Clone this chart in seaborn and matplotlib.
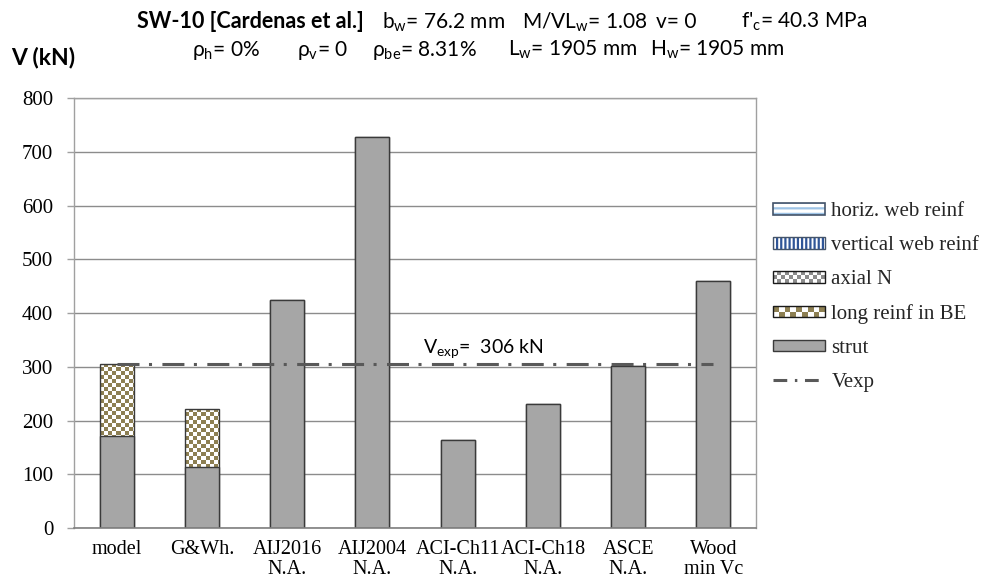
import matplotlib
matplotlib.use("Agg")
import numpy as np
import pandas as pd
import seaborn as sns
import matplotlib.pyplot as plt
from matplotlib.patches import Rectangle, Patch
from matplotlib.lines import Line2D
from matplotlib.legend_handler import HandlerBase
from matplotlib.colors import ListedColormap

# ---- data -------------------------------------------------------------
methods = ["model", "G&Wh.", "AIJ2016\nN.A.", "AIJ2004\nN.A.", "ACI-Ch11\nN.A.",
           "ACI-Ch18\nN.A.", "ASCE\nN.A.", "Wood\nmin Vc"]
strut = [172, 113, 424, 727, 163, 230, 302, 460]
long_reinf_be = [134, 109, 0, 0, 0, 0, 0, 0]
v_exp = 306
y_ticks = [0, 100, 200, 300, 400, 500, 600, 700, 800]

legend_labels = ["horiz. web reinf", "vertical web reinf", "axial N",
                 "long reinf in BE", "strut", "Vexp"]

# ---- style ------------------------------------------------------------
sns.set_theme(style="white")
plt.rcParams["font.family"] = ["Liberation Serif", "DejaVu Serif"]
plt.rcParams["mathtext.fontset"] = "custom"
plt.rcParams["mathtext.rm"] = "Lato"
plt.rcParams["mathtext.default"] = "regular"
plt.rcParams["hatch.linewidth"] = 1.6

SANS = ["Lato", "DejaVu Sans"]
STRUT_GRAY = "#A6A6A6"
EDGE = "#3A3A3A"
OLIVE = "#8D7F52"
LINE_GRAY = "#595959"
GRID = "#8C8C8C"

W, H = 984, 581
fig = plt.figure(figsize=(W / 100, H / 100), dpi=100)
fig.patch.set_facecolor("white")

ax_left, ax_right, ax_top, ax_bottom = 74, 756, 98, 528
ax = fig.add_axes([ax_left / W, 1 - ax_bottom / H,
                   (ax_right - ax_left) / W, (ax_bottom - ax_top) / H])

df = pd.DataFrame({"method": methods,
                   "strut": strut,
                   "total": np.add(strut, long_reinf_be)})

# total height (strut + longitudinal reinforcement contribution)
sns.barplot(data=df, x="method", y="total", color="white", saturation=1,
            width=0.4, edgecolor=EDGE, linewidth=1.0, ax=ax)
total_bars = list(ax.patches)
for p in total_bars:
    p.set_facecolor("none")
    p.set_zorder(1.8)

ax.set_ylim(0, 800)
ax.set_xlim(-0.5, len(methods) - 0.5)

# checkerboard texture for the boundary-element reinforcement share
cell_px = 4.0
inv = ax.transData.inverted()
for p, extra in zip(total_bars, long_reinf_be):
    if extra <= 0:
        continue
    x0, x1 = p.get_x(), p.get_x() + p.get_width()
    y0, y1 = 0, p.get_height()
    (px0, py0), (px1, py1) = ax.transData.transform([(x0, y0), (x1, y1)])
    nx = int(np.ceil((px1 - px0) / cell_px))
    ny = int(np.ceil((py1 - py0) / cell_px))
    ex1, _ = inv.transform((px0 + nx * cell_px, py0))
    _, ey0 = inv.transform((px0, py1 - ny * cell_px))
    ii, jj = np.meshgrid(np.arange(nx), np.arange(ny))
    board = ((ii + jj) % 2).astype(float)
    im = ax.imshow(board, cmap=ListedColormap(["white", OLIVE]), vmin=0, vmax=1,
                   extent=(x0, ex1, ey0, y1), origin="upper",
                   interpolation="nearest", aspect="auto", zorder=1.5)
    im.set_clip_path(p)

# strut contribution
sns.barplot(data=df, x="method", y="strut", color=STRUT_GRAY, saturation=1,
            width=0.4, edgecolor=EDGE, linewidth=1.0, ax=ax, zorder=2)

ax.set_ylim(0, 800)
ax.set_xlim(-0.5, len(methods) - 0.5)
ax.set_aspect("auto")

# experimental shear strength
dash = (7.2, 3.1, 1.0, 3.4)
ax.plot([0, len(methods) - 1], [v_exp, v_exp], color=LINE_GRAY, lw=2.2,
        dashes=dash, solid_capstyle="butt", dash_capstyle="butt", zorder=3)
ax.text(3.59, v_exp + 27, r"V$_{exp}$=  " + f"{v_exp} kN", family=SANS,
        fontsize=14, color="black", ha="left", va="center", zorder=4)

# axes cosmetics
ax.set_yticks(y_ticks)
ax.set_yticklabels([str(t) for t in y_ticks])
ax.yaxis.grid(True, color=GRID, lw=1.0)
ax.set_axisbelow(True)
ax.set_xlabel("")
ax.set_ylabel("")
for side in ["left", "right", "top"]:
    ax.spines[side].set_color("#A0A0A0")
    ax.spines[side].set_linewidth(1.0)
ax.spines["bottom"].set_color("#7F7F7F")
ax.spines["bottom"].set_linewidth(1.2)
ax.tick_params(axis="y", which="both", left=True, length=5, width=1,
               color="#A0A0A0", direction="out", pad=10, labelsize=15,
               labelcolor="black")
ax.tick_params(axis="x", length=0, pad=9, labelsize=14.5, labelcolor="black")
for lab in ax.get_xticklabels():
    lab.set_linespacing(1.0)
    lab.set_verticalalignment("top")

# ---- titles -----------------------------------------------------------
def ftext(x, y, s, size=15, **kw):
    fig.text(x / W, 1 - y / H, s, va="center", ha="left", family=SANS,
             fontsize=size, color="black", **kw)

ftext(137, 22, "SW-10 [Cardenas et al.]", size=15.5, weight="bold")
ftext(382, 22, r"b$_w$= 76.2 mm")
ftext(522, 22, r"M/VL$_w$= 1.08")
ftext(656, 22, "v= 0")
ftext(741, 22, r"f'$_c$= 40.3 MPa")
ftext(192, 50, r"$\rho_h$= 0%")
ftext(297, 50, r"$\rho_v$= 0")
ftext(372, 50, r"$\rho_{be}$= 8.31%")
ftext(508, 50, r"L$_w$= 1905 mm")
ftext(650, 50, r"H$_w$= 1905 mm")
ftext(11, 58, "V (kN)", size=16.5, weight="bold")

# ---- legend -----------------------------------------------------------
class CheckerHandler(HandlerBase):
    def __init__(self, color, rows):
        super().__init__()
        self.color = color
        self.rows = rows

    def create_artists(self, legend, orig_handle, xdescent, ydescent,
                       width, height, fontsize, trans):
        x0, y0 = -xdescent, -ydescent
        ch = height / self.rows
        nx = max(1, int(round(width / ch)))
        cw = width / nx
        arts = [Rectangle((x0, y0), width, height, facecolor="white",
                          lw=0, transform=trans)]
        for i in range(nx):
            for j in range(self.rows):
                if (i + j) % 2:
                    arts.append(Rectangle((x0 + i * cw, y0 + j * ch), cw, ch,
                                          facecolor=self.color, lw=0,
                                          transform=trans))
        arts.append(Rectangle((x0, y0), width, height, facecolor="none",
                              edgecolor="#1A1A1A", lw=1.0, transform=trans))
        return arts


h_horiz = (Patch(facecolor="white", edgecolor="#9DC3E6", hatch="---", lw=0),
           Patch(facecolor="none", edgecolor="#44546A", lw=1.2))
h_vert = (Patch(facecolor="white", edgecolor="#2F5597", hatch="||||", lw=0),
          Patch(facecolor="none", edgecolor="#44546A", lw=1.0))
h_axial = Patch(facecolor="white")
h_long = Patch(facecolor=OLIVE)
h_strut = Patch(facecolor=STRUT_GRAY, edgecolor=EDGE, lw=1.0)
h_vexp = Line2D([], [], color=LINE_GRAY, lw=2.2, dashes=(4.5, 2.5, 0.8, 2.5))

fig.legend([h_horiz, h_vert, h_axial, h_long, h_strut, h_vexp], legend_labels,
           handler_map={h_axial: CheckerHandler("#8C8C8C", 3),
                        h_long: CheckerHandler(OLIVE, 2)},
           loc="center left", bbox_to_anchor=(773 / W, 1 - 297 / H),
           bbox_transform=fig.transFigure, frameon=False, fontsize=15,
           borderpad=0, borderaxespad=0, handlelength=2.5, handleheight=0.5,
           handletextpad=0.3, labelspacing=0.72)

fig.savefig("out.png", dpi=100, facecolor="white")
